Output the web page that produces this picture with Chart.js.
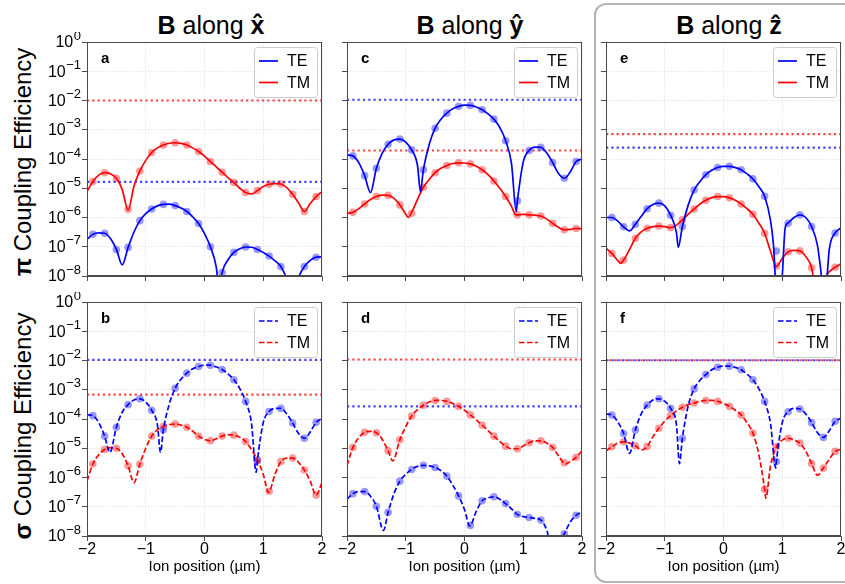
<!DOCTYPE html>
<html>
<head>
<meta charset="utf-8">
<script src="https://cdn.jsdelivr.net/npm/chart.js@4.4.0/dist/chart.umd.min.js"></script>
<style>
  body { margin: 0; background: #fff; width: 845px; height: 584px; position: relative; overflow: hidden;
         font-family: "Liberation Sans", Arial, sans-serif; color: #000; }
  canvas { position: absolute; }
  #zbox { position: absolute; left: 594px; top: 3px; width: 270px; height: 576px;
          border: 2px solid #b4b4b4; border-radius: 12px; }
  .colTitle { position: absolute; font-size: 25px; line-height: 1; white-space: nowrap; transform: translate(-50%, -50%); }
  .rowTitle { position: absolute; font-size: 24px; line-height: 1; white-space: nowrap;
              transform: translate(-50%, -50%) rotate(-90deg); }
</style>
</head>
<body>
<div id="zbox"></div>
<div class="colTitle" style="left:211px;top:25px"><b>B</b> along <b>x&#770;</b></div>
<div class="colTitle" style="left:470px;top:25px"><b>B</b> along <b>y&#770;</b></div>
<div class="colTitle" style="left:729px;top:25px"><b>B</b> along <b>z&#770;</b></div>
<div class="rowTitle" style="left:23px;top:162px"><b>π</b> Coupling Efficiency</div>
<div class="rowTitle" style="left:23px;top:426px"><b>σ</b> Coupling Efficiency</div>

<script>
// ---- axis ticks ----
const xTicks = [-2, -1, 0, 1, 2];
const xTickLabels = ['−2', '−1', '0', '1', '2'];
const yTicks = [1, 1e-1, 1e-2, 1e-3, 1e-4, 1e-5, 1e-6, 1e-7, 1e-8];
const yTickExp = ['0', '−1', '−2', '−3', '−4', '−5', '−6', '−7', '−8'];
const xLabel = 'Ion position (µm)';
const seriesNames = ['TE', 'TM'];

// sampled (marker) positions
const dotX = [-1.9, -1.7, -1.5, -1.3, -1.1, -0.9, -0.7, -0.5, -0.3, -0.1, 0.1, 0.3, 0.5, 0.7, 0.9, 1.1, 1.3, 1.5, 1.7, 1.9];

// ---- panel a: pi, B along x ----
const aTE = [[-2,1.8e-7],[-1.9,2.65e-7],[-1.8,3.0e-7],[-1.7,2.9e-7],[-1.6,1.9e-7],[-1.5,8.1e-8],[-1.4,2.4e-8],[-1.3,9.5e-8],[-1.2,3.2e-7],[-1.1,7.8e-7],[-1,1.35e-6],[-0.9,1.95e-6],[-0.8,2.5e-6],[-0.7,2.8e-6],[-0.6,2.85e-6],[-0.5,2.55e-6],[-0.4,2.1e-6],[-0.3,1.6e-6],[-0.2,1.05e-6],[-0.1,6.2e-7],[0,2.8e-7],[0.1,1.0e-7],[0.2,2.0e-8],[0.25,3e-9],[0.3,1.3e-8],[0.4,3.6e-8],[0.5,6.4e-8],[0.6,8.6e-8],[0.7,9.8e-8],[0.8,9.6e-8],[0.9,8.1e-8],[1,6.4e-8],[1.1,4.8e-8],[1.2,3.3e-8],[1.3,2.1e-8],[1.4,8e-9],[1.5,2e-9],[1.6,9e-9],[1.7,2.1e-8],[1.8,3.4e-8],[1.9,4.4e-8],[2,4.5e-8]];
const aTM = [[-2,7.7e-6],[-1.9,1.7e-5],[-1.8,2.8e-5],[-1.7,3.4e-5],[-1.6,3.1e-5],[-1.5,2.2e-5],[-1.4,9e-6],[-1.3,1.8e-6],[-1.2,1.2e-5],[-1.1,3.9e-5],[-1,9e-5],[-0.9,1.66e-4],[-0.8,2.4e-4],[-0.7,3.0e-4],[-0.6,3.45e-4],[-0.5,3.6e-4],[-0.4,3.4e-4],[-0.3,3.0e-4],[-0.2,2.4e-4],[-0.1,1.8e-4],[0,1.25e-4],[0.1,8.2e-5],[0.2,5.4e-5],[0.3,3.5e-5],[0.4,2.3e-5],[0.5,1.56e-5],[0.6,1.0e-5],[0.7,7.1e-6],[0.8,6.4e-6],[0.9,8.3e-6],[1,1.15e-5],[1.1,1.37e-5],[1.2,1.45e-5],[1.3,1.4e-5],[1.4,1.05e-5],[1.5,6.2e-6],[1.6,3.2e-6],[1.7,1.6e-6],[1.8,3.0e-6],[1.9,5.2e-6],[2,7.7e-6]];
const aTEdots = [2.65e-7,2.9e-7,8.1e-8,9.5e-8,7.8e-7,1.95e-6,2.8e-6,2.55e-6,1.6e-6,6.2e-7,1.0e-7,1.3e-8,6.4e-8,9.8e-8,8.1e-8,4.8e-8,2.1e-8,2e-9,2.1e-8,4.4e-8];
const aTMdots = [1.7e-5,3.4e-5,2.2e-5,1.9e-6,3.9e-5,1.66e-4,3.0e-4,3.6e-4,3.0e-4,1.8e-4,8.2e-5,3.5e-5,1.56e-5,7.1e-6,8.3e-6,1.37e-5,1.4e-5,6.2e-6,1.6e-6,5.2e-6];
const aRef = [1.65e-5, 1.0e-2];

// ---- panel b: sigma, B along x ----
const bTE = [[-2,1.4e-4],[-1.9,1.3e-4],[-1.8,7.5e-5],[-1.7,2.6e-5],[-1.61,7.2e-6],[-1.5,5.2e-5],[-1.4,1.7e-4],[-1.3,3.1e-4],[-1.2,4.5e-4],[-1.1,4.9e-4],[-1,3.8e-4],[-0.9,2.0e-4],[-0.8,6e-5],[-0.75,7.2e-6],[-0.7,4.3e-5],[-0.6,3.2e-4],[-0.5,1.12e-3],[-0.4,2.3e-3],[-0.3,3.7e-3],[-0.2,5.2e-3],[-0.1,6.2e-3],[0,6.9e-3],[0.1,6.9e-3],[0.2,6.0e-3],[0.3,4.9e-3],[0.4,3.5e-3],[0.5,2.2e-3],[0.6,1.1e-3],[0.7,4.0e-4],[0.8,7e-5],[0.88,1.5e-6],[0.9,3.7e-6],[1,7.5e-5],[1.1,1.8e-4],[1.2,2.3e-4],[1.3,2.3e-4],[1.4,1.5e-4],[1.5,7.3e-5],[1.6,3.2e-5],[1.7,2.2e-5],[1.8,3.6e-5],[1.9,7.7e-5],[2,1.05e-4]];
const bTM = [[-2,7.7e-7],[-1.9,2.9e-6],[-1.8,6e-6],[-1.7,9.1e-6],[-1.6,1.05e-5],[-1.5,1.0e-5],[-1.4,6.5e-6],[-1.3,2.5e-6],[-1.2,6.7e-7],[-1.1,2.9e-6],[-1,1.0e-5],[-0.9,2.6e-5],[-0.8,4.3e-5],[-0.7,5.6e-5],[-0.6,6.5e-5],[-0.5,6.7e-5],[-0.4,6.2e-5],[-0.3,5.2e-5],[-0.2,3.8e-5],[-0.1,2.6e-5],[0,2.0e-5],[0.1,1.8e-5],[0.2,2.1e-5],[0.3,2.6e-5],[0.4,2.9e-5],[0.5,2.8e-5],[0.6,2.4e-5],[0.7,1.7e-5],[0.8,9e-6],[0.9,4.0e-6],[1,1.3e-6],[1.09,3.1e-7],[1.2,1.3e-6],[1.3,3.5e-6],[1.4,4.6e-6],[1.5,4.6e-6],[1.6,3.3e-6],[1.7,1.8e-6],[1.8,7.5e-7],[1.9,2.5e-7],[2,6.7e-7]];
const bTEdots = [1.3e-4,2.6e-5,5.2e-5,3.1e-4,4.9e-4,2.0e-4,4.3e-5,1.12e-3,3.7e-3,6.2e-3,6.9e-3,4.9e-3,2.2e-3,4.0e-4,3.7e-6,1.8e-4,2.3e-4,7.3e-5,2.2e-5,7.7e-5];
const bTMdots = [2.9e-6,9.1e-6,1.0e-5,2.5e-6,2.9e-6,2.6e-5,5.6e-5,6.7e-5,5.2e-5,2.6e-5,1.8e-5,2.6e-5,2.8e-5,1.7e-5,4.0e-6,3.4e-7,3.5e-6,4.6e-6,1.8e-6,2.5e-7];
const bRef = [1.05e-2, 6.8e-4];

// ---- panel c: pi, B along y ----
const cTE = [[-2,1.38e-4],[-1.9,1.28e-4],[-1.8,7.5e-5],[-1.7,2.7e-5],[-1.6,7.1e-6],[-1.5,4.8e-5],[-1.4,1.6e-4],[-1.3,3.2e-4],[-1.2,4.5e-4],[-1.1,4.8e-4],[-1,3.8e-4],[-0.9,2.05e-4],[-0.8,6e-5],[-0.75,7.7e-6],[-0.7,4.3e-5],[-0.6,3.2e-4],[-0.5,1.13e-3],[-0.4,2.3e-3],[-0.3,3.7e-3],[-0.2,5.2e-3],[-0.1,6.3e-3],[0,6.9e-3],[0.1,6.8e-3],[0.2,6.0e-3],[0.3,4.8e-3],[0.4,3.5e-3],[0.5,2.3e-3],[0.6,1.2e-3],[0.7,4.2e-4],[0.8,7e-5],[0.88,1.6e-6],[0.9,3.7e-6],[1,8e-5],[1.1,1.95e-4],[1.2,2.55e-4],[1.3,2.5e-4],[1.4,1.6e-4],[1.5,7.6e-5],[1.6,3.2e-5],[1.7,2.2e-5],[1.8,3.6e-5],[1.9,8.2e-5],[2,1.0e-4]];
const cTM = [[-2,1.39e-6],[-1.9,1.5e-6],[-1.8,2.0e-6],[-1.7,2.9e-6],[-1.6,4.1e-6],[-1.5,5.2e-6],[-1.4,5.8e-6],[-1.3,5.7e-6],[-1.2,4.5e-6],[-1.1,2.7e-6],[-1,1.3e-6],[-0.96,1.0e-6],[-0.9,1.5e-6],[-0.8,4.2e-6],[-0.7,1.08e-5],[-0.6,2.0e-5],[-0.5,3.4e-5],[-0.4,4.8e-5],[-0.3,6.0e-5],[-0.2,7.0e-5],[-0.1,7.4e-5],[0,7.3e-5],[0.1,6.8e-5],[0.2,5.7e-5],[0.3,4.3e-5],[0.4,2.9e-5],[0.5,1.78e-5],[0.6,1.0e-5],[0.7,5.2e-6],[0.8,2.4e-6],[0.87,1.25e-6],[0.9,1.23e-6],[1,1.28e-6],[1.1,1.23e-6],[1.2,1.2e-6],[1.3,1.12e-6],[1.4,8.8e-7],[1.5,6.3e-7],[1.6,4.6e-7],[1.7,3.8e-7],[1.8,3.9e-7],[1.9,4.2e-7],[2,4.1e-7]];
const cTEdots = [1.28e-4,2.7e-5,4.8e-5,3.2e-4,4.8e-4,2.05e-4,4.3e-5,1.13e-3,3.7e-3,6.3e-3,6.8e-3,4.8e-3,2.3e-3,4.2e-4,3.7e-6,1.95e-4,2.5e-4,7.6e-5,2.2e-5,8.2e-5];
const cTMdots = [1.5e-6,2.9e-6,5.2e-6,5.7e-6,2.7e-6,1.39e-6,1.08e-5,3.4e-5,6.0e-5,7.4e-5,6.8e-5,4.3e-5,1.78e-5,5.2e-6,1.23e-6,1.23e-6,1.12e-6,6.3e-7,3.8e-7,4.2e-7];
const cRef = [1.06e-2, 1.95e-4];

// ---- panel d: sigma, B along y ----
const dTE = [[-2,1.8e-7],[-1.9,2.8e-7],[-1.8,3.3e-7],[-1.7,3.3e-7],[-1.6,2.3e-7],[-1.5,1.04e-7],[-1.38,1.55e-8],[-1.3,6.5e-8],[-1.2,2.8e-7],[-1.1,7.5e-7],[-1,1.3e-6],[-0.9,1.88e-6],[-0.8,2.4e-6],[-0.7,2.6e-6],[-0.6,2.5e-6],[-0.5,2.2e-6],[-0.4,1.7e-6],[-0.3,1.11e-6],[-0.2,5.5e-7],[-0.1,2.35e-7],[0,8e-8],[0.09,2.2e-8],[0.2,7e-8],[0.3,1.6e-7],[0.4,2.0e-7],[0.5,2.2e-7],[0.6,1.8e-7],[0.7,1.28e-7],[0.8,8.5e-8],[0.9,5.5e-8],[1,4.6e-8],[1.1,4.3e-8],[1.2,4.0e-8],[1.3,3.5e-8],[1.4,1.6e-8],[1.5,3e-9],[1.6,5e-9],[1.7,1.2e-8],[1.8,3e-8],[1.9,5.1e-8],[2,6.6e-8]];
const dTM = [[-2,2.6e-6],[-1.9,1.07e-5],[-1.8,2.3e-5],[-1.7,3.5e-5],[-1.6,3.8e-5],[-1.5,3.4e-5],[-1.4,2.0e-5],[-1.3,8.2e-6],[-1.22,3.7e-6],[-1.1,1.96e-5],[-1,5.5e-5],[-0.9,1.26e-4],[-0.8,2.1e-4],[-0.7,2.95e-4],[-0.6,3.8e-4],[-0.5,4.3e-4],[-0.4,4.3e-4],[-0.3,4.0e-4],[-0.2,3.4e-4],[-0.1,2.7e-4],[0,2.0e-4],[0.1,1.38e-4],[0.2,9.3e-5],[0.3,6.2e-5],[0.4,4.0e-5],[0.5,2.6e-5],[0.6,1.7e-5],[0.7,1.18e-5],[0.8,9.6e-6],[0.9,9.6e-6],[1,1.2e-5],[1.1,1.55e-5],[1.2,1.8e-5],[1.3,1.8e-5],[1.4,1.5e-5],[1.5,1.07e-5],[1.6,5.5e-6],[1.72,2.9e-6],[1.8,3.5e-6],[1.9,4.9e-6],[2,8.2e-6]];
const dTEdots = [2.8e-7,3.3e-7,1.04e-7,6.5e-8,7.5e-7,1.88e-6,2.6e-6,2.2e-6,1.11e-6,2.35e-7,2.3e-8,1.6e-7,2.2e-7,1.28e-7,5.5e-8,4.3e-8,3.5e-8,3e-9,1.2e-8,5.1e-8];
const dTMdots = [1.07e-5,3.5e-5,3.4e-5,8.2e-6,1.96e-5,1.26e-4,2.95e-4,4.3e-4,4.0e-4,2.7e-4,1.38e-4,6.2e-5,2.6e-5,1.18e-5,9.6e-6,1.55e-5,1.8e-5,1.07e-5,3.2e-6,4.9e-6];
const dRef = [2.7e-4, 1.08e-2];

// ---- panel e: pi, B along z ----
const eTE = [[-2,1.0e-6],[-1.9,1.0e-6],[-1.8,7.5e-7],[-1.7,4.8e-7],[-1.6,3.5e-7],[-1.5,5.9e-7],[-1.4,1.1e-6],[-1.3,2.0e-6],[-1.2,2.8e-6],[-1.1,3.1e-6],[-1,2.5e-6],[-0.9,1.2e-6],[-0.8,3.0e-7],[-0.77,9.5e-8],[-0.7,4.9e-7],[-0.6,2.7e-6],[-0.5,8.7e-6],[-0.4,1.7e-5],[-0.3,2.9e-5],[-0.2,4.1e-5],[-0.1,5.1e-5],[0,5.6e-5],[0.1,5.6e-5],[0.2,5.1e-5],[0.3,4.3e-5],[0.4,3.1e-5],[0.5,2.1e-5],[0.6,1.15e-5],[0.7,5.3e-6],[0.8,8e-7],[0.85,1.2e-7],[0.9,3e-9],[0.95,2e-9],[1,1e-8],[1.05,4.5e-7],[1.1,6.5e-7],[1.2,1.0e-6],[1.3,1.23e-6],[1.4,1.0e-6],[1.5,4.9e-7],[1.6,1.1e-7],[1.65,2e-8],[1.7,3e-9],[1.75,5e-9],[1.8,8e-8],[1.9,2.95e-7],[2,4.4e-7]];
const eTM = [[-2,8.9e-8],[-1.9,5.9e-8],[-1.8,3.4e-8],[-1.75,2.7e-8],[-1.7,3.5e-8],[-1.6,8e-8],[-1.5,1.95e-7],[-1.4,3.2e-7],[-1.3,4.3e-7],[-1.2,4.9e-7],[-1.1,5.1e-7],[-1,4.9e-7],[-0.9,4.5e-7],[-0.8,5.5e-7],[-0.7,8.3e-7],[-0.6,1.3e-6],[-0.5,1.95e-6],[-0.4,2.9e-6],[-0.3,3.9e-6],[-0.2,4.8e-6],[-0.1,5.2e-6],[0,5.2e-6],[0.1,4.7e-6],[0.2,3.9e-6],[0.3,2.9e-6],[0.4,2.0e-6],[0.5,1.29e-6],[0.6,6.5e-7],[0.7,2.9e-7],[0.8,7e-8],[0.9,2.1e-8],[1,4e-8],[1.1,6.7e-8],[1.2,7.5e-8],[1.3,7.2e-8],[1.4,4.6e-8],[1.5,1.9e-8],[1.55,5e-9],[1.6,2e-9],[1.7,4e-9],[1.75,1e-8],[1.8,1.4e-8],[1.9,2.0e-8],[2,2.6e-8]];
const eTEdots = [1.0e-6,4.8e-7,5.9e-7,2.0e-6,3.1e-6,1.2e-6,4.9e-7,8.7e-6,2.9e-5,5.1e-5,5.6e-5,4.3e-5,2.1e-5,5.3e-6,7.1e-8,6.3e-7,1.23e-6,4.9e-7,3e-9,2.95e-7];
const eTMdots = [5.9e-8,3.5e-8,1.95e-7,4.3e-7,5.1e-7,4.5e-7,8.3e-7,1.95e-6,3.9e-6,5.2e-6,4.7e-6,2.9e-6,1.29e-6,2.9e-7,2.2e-8,6.7e-8,7.2e-8,1.9e-8,4e-9,2.0e-8];
const eRef = [2.46e-4, 7.1e-4];

// ---- panel f: sigma, B along z ----
const fTE = [[-2,1.48e-4],[-1.9,1.37e-4],[-1.8,8e-5],[-1.7,3.2e-5],[-1.6,6.7e-6],[-1.5,4.2e-5],[-1.4,1.5e-4],[-1.3,3.0e-4],[-1.2,4.5e-4],[-1.1,4.9e-4],[-1,4.0e-4],[-0.9,2.3e-4],[-0.8,6e-5],[-0.75,3.0e-6],[-0.7,2.2e-5],[-0.6,2.9e-4],[-0.5,1.07e-3],[-0.4,2.1e-3],[-0.3,3.3e-3],[-0.2,4.8e-3],[-0.1,5.9e-3],[0,6.4e-3],[0.1,6.4e-3],[0.2,5.8e-3],[0.3,4.8e-3],[0.4,3.4e-3],[0.5,2.2e-3],[0.6,1.1e-3],[0.7,4.0e-4],[0.8,7e-5],[0.89,2.1e-6],[0.9,3.5e-6],[1,7.5e-5],[1.1,1.78e-4],[1.2,2.3e-4],[1.3,2.2e-4],[1.4,1.5e-4],[1.5,7.5e-5],[1.6,3.4e-5],[1.7,2.35e-5],[1.8,4.0e-5],[1.9,8.3e-5],[2,1.05e-4]];
const fTM = [[-2,8.2e-6],[-1.9,1.12e-5],[-1.8,1.5e-5],[-1.7,1.66e-5],[-1.6,1.5e-5],[-1.5,1.22e-5],[-1.4,8.7e-6],[-1.3,1.15e-5],[-1.2,2.5e-5],[-1.1,4.8e-5],[-1,8.5e-5],[-0.9,1.3e-4],[-0.8,1.9e-4],[-0.7,2.5e-4],[-0.6,3.1e-4],[-0.5,3.5e-4],[-0.4,4.0e-4],[-0.3,4.3e-4],[-0.2,4.3e-4],[-0.1,4.0e-4],[0,3.4e-4],[0.1,2.7e-4],[0.2,2.0e-4],[0.3,1.38e-4],[0.4,7.5e-5],[0.5,3.3e-5],[0.6,6.3e-6],[0.7,4.0e-7],[0.72,1.95e-7],[0.8,2.5e-6],[0.9,1.12e-5],[1,1.9e-5],[1.1,2.2e-5],[1.2,1.9e-5],[1.3,1.5e-5],[1.4,8e-6],[1.5,3.0e-6],[1.6,1.2e-6],[1.7,2.1e-6],[1.8,4.2e-6],[1.9,7.8e-6],[2,9.3e-6]];
const fTEdots = [1.37e-4,3.2e-5,4.2e-5,3.0e-4,4.9e-4,2.3e-4,2.2e-5,1.07e-3,3.3e-3,5.9e-3,6.4e-3,4.8e-3,2.2e-3,4.0e-4,3.5e-6,1.78e-4,2.2e-4,7.5e-5,2.35e-5,8.3e-5];
const fTMdots = [1.12e-5,1.66e-5,1.22e-5,1.15e-5,4.8e-5,1.3e-4,2.5e-4,3.5e-4,4.3e-4,4.0e-4,2.7e-4,1.38e-4,3.3e-5,4.0e-7,1.12e-5,2.2e-5,1.5e-5,3.0e-6,2.1e-6,7.8e-6];
const fRef = [1.02e-2, 1.02e-2];

// ---- layout / style ----
const FONT = '"Liberation Sans", Arial, sans-serif';
const colLeft = [87, 347, 606];
const rowTop = [42, 302];
const plotW = 235, plotH = 234;
const padL = 48, padT = 10, padR = 10, axisH = 45;
const BLUE = '#0000ff', RED = '#ff0000';
const AXIS = '#4a4a4a', GRID = '#dcdcdc';

const panels = [
  { id: 'a', col: 0, row: 0, te: aTE, tm: aTM, teDots: aTEdots, tmDots: aTMdots, ref: aRef },
  { id: 'b', col: 0, row: 1, te: bTE, tm: bTM, teDots: bTEdots, tmDots: bTMdots, ref: bRef },
  { id: 'c', col: 1, row: 0, te: cTE, tm: cTM, teDots: cTEdots, tmDots: cTMdots, ref: cRef },
  { id: 'd', col: 1, row: 1, te: dTE, tm: dTM, teDots: dTEdots, tmDots: dTMdots, ref: dRef },
  { id: 'e', col: 2, row: 0, te: eTE, tm: eTM, teDots: eTEdots, tmDots: eTMdots, ref: eRef },
  { id: 'f', col: 2, row: 1, te: fTE, tm: fTM, teDots: fTEdots, tmDots: fTMdots, ref: fRef }
];

const curveDs = (pts, color, dash) => ({
  data: pts.map(p => ({ x: p[0], y: p[1] })),
  borderColor: color, borderWidth: 1.7, borderDash: dash,
  pointRadius: 0, cubicInterpolationMode: 'monotone', order: 0
});
const dotDs = (vals, fill) => ({
  data: dotX.map((x, i) => ({ x: x, y: vals[i] })),
  showLine: false, pointRadius: 3.8, pointBorderWidth: 0,
  pointBackgroundColor: fill, order: 1
});
const refDs = (v, color, offset) => ({
  data: [{ x: xTicks[0], y: v }, { x: xTicks[xTicks.length - 1], y: v }],
  borderColor: color, borderWidth: 2.2, borderDash: [2.2, 3.1], borderDashOffset: offset,
  borderCapStyle: 'butt', pointRadius: 0, order: 2
});

// frame, panel letter, legend and tick labels
const decorPlugin = p => ({
  id: 'decor',
  afterDraw(chart) {
    const { ctx, chartArea: a, scales } = chart;
    const L = Math.round(a.left) + 0.5, T = Math.round(a.top) + 0.5;
    const R = Math.round(a.right) - 0.5, B = Math.round(a.bottom) - 0.5;
    ctx.save();
    ctx.strokeStyle = AXIS; ctx.lineWidth = 1;
    ctx.strokeRect(L, T, R - L, B - T);

    ctx.fillStyle = '#000';
    ctx.font = 'bold 15px ' + FONT;
    ctx.textAlign = 'left'; ctx.textBaseline = 'alphabetic';
    ctx.fillText(p.id, a.left + 14, a.top + 20.5);

    // legend
    const lx = a.right - 68, ly = a.top + 5, lw = 63, lh = 50;
    ctx.beginPath();
    ctx.roundRect(lx + 0.5, ly + 0.5, lw, lh, 3);
    ctx.fillStyle = 'rgba(255,255,255,0.85)'; ctx.fill();
    ctx.strokeStyle = '#cccccc'; ctx.lineWidth = 1; ctx.stroke();
    [BLUE, RED].forEach((c, i) => {
      const yy = ly + 14 + i * 21.5;
      ctx.beginPath();
      ctx.setLineDash(p.row ? [5.5, 2.5] : []);
      ctx.strokeStyle = c; ctx.lineWidth = 1.7;
      ctx.moveTo(lx + 5, yy); ctx.lineTo(lx + 24, yy); ctx.stroke();
      ctx.setLineDash([]);
      ctx.fillStyle = '#000'; ctx.font = '16px ' + FONT;
      ctx.textAlign = 'left'; ctx.textBaseline = 'middle';
      ctx.fillText(seriesNames[i], lx + 33, yy + 1);
    });

    // y tick labels (left column only)
    if (p.col === 0) {
      const y = scales.y;
      yTicks.forEach((v, i) => {
        const py = y.getPixelForValue(v);
        ctx.fillStyle = '#000';
        ctx.textAlign = 'right'; ctx.textBaseline = 'middle';
        ctx.font = '13px ' + FONT;
        const we = ctx.measureText(yTickExp[i]).width;
        ctx.fillText(yTickExp[i], a.left - 6, py - 6);
        ctx.font = '16px ' + FONT;
        ctx.fillText('10', a.left - 6 - we - 0.5, py + 1);
      });
    }
    // x tick labels + axis title (bottom row only)
    if (p.row === 1) {
      const x = scales.x;
      ctx.fillStyle = '#000';
      ctx.textAlign = 'center'; ctx.textBaseline = 'middle';
      ctx.font = '16px ' + FONT;
      xTicks.forEach((v, i) => ctx.fillText(xTickLabels[i], x.getPixelForValue(v), a.bottom + 13.5));
      ctx.font = '15px ' + FONT;
      ctx.fillText(xLabel, (a.left + a.right) / 2, a.bottom + 30.5);
    }
    ctx.restore();
  }
});

panels.forEach(p => {
  const cv = document.createElement('canvas');
  cv.width = padL + plotW + padR;
  cv.height = padT + plotH + axisH;
  cv.style.left = (colLeft[p.col] - padL) + 'px';
  cv.style.top = (rowTop[p.row] - padT) + 'px';
  document.body.appendChild(cv);

  const dash = p.row ? [5.5, 2.5] : [];
  new Chart(cv.getContext('2d'), {
    type: 'line',
    data: {
      datasets: [
        curveDs(p.te, BLUE, dash),
        curveDs(p.tm, RED, dash),
        dotDs(p.teDots, 'rgba(0,0,255,0.4)'),
        dotDs(p.tmDots, 'rgba(255,0,0,0.4)'),
        refDs(p.ref[0], 'rgba(20,20,255,0.8)', 0),
        refDs(p.ref[1], 'rgba(255,20,20,0.8)', p.id === 'f' ? 2.65 : 0)
      ]
    },
    options: {
      responsive: false,
      animation: false,
      devicePixelRatio: 1,
      layout: { padding: { top: padT, right: padR, left: 0, bottom: 0 } },
      plugins: { legend: { display: false }, tooltip: { enabled: false } },
      scales: {
        x: {
          type: 'linear', min: xTicks[0], max: xTicks[xTicks.length - 1],
          afterBuildTicks: s => { s.ticks = xTicks.map(v => ({ value: v })); },
          afterFit: s => { s.height = axisH; },
          ticks: { display: false },
          grid: { color: GRID, lineWidth: 0.7, tickColor: AXIS, tickLength: 5, tickWidth: 1 },
          border: { color: AXIS, width: 1, dash: [1.5, 1.5] }
        },
        y: {
          type: 'logarithmic', min: yTicks[yTicks.length - 1], max: yTicks[0],
          afterBuildTicks: s => { s.ticks = yTicks.slice().reverse().map(v => ({ value: v })); },
          afterFit: s => { s.width = padL; },
          ticks: { display: false },
          grid: { color: GRID, lineWidth: 0.7, tickColor: AXIS, tickLength: 5, tickWidth: 1 },
          border: { color: AXIS, width: 1, dash: [1.5, 1.5] }
        }
      }
    },
    plugins: [decorPlugin(p)]
  });
});
</script>
</body>
</html>
